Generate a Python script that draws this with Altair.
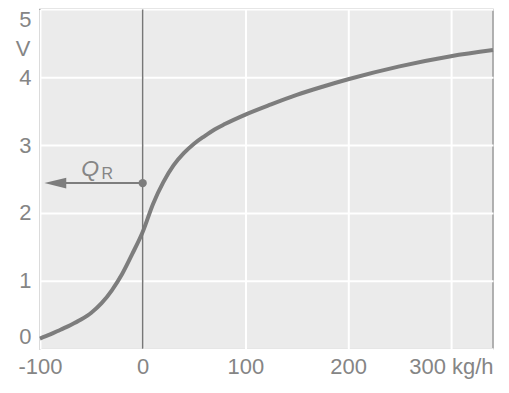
import altair as alt
import pandas as pd

# curve: sensor voltage vs. air mass flow
flow = [-100, -90, -80, -70, -60, -50, -40, -30, -20, -10, 0, 10, 20, 30, 40, 50, 60, 70, 80,
        100, 125, 150, 175, 200, 250, 300, 341]
volt = [0.15, 0.21, 0.28, 0.35, 0.43, 0.53, 0.67, 0.86, 1.10, 1.40, 1.72, 2.13, 2.45, 2.70, 2.88,
        3.02, 3.13, 3.23, 3.31, 3.45, 3.60, 3.74, 3.86, 3.97, 4.16, 4.31, 4.40]

x_ticks = [-100, 0, 100, 200, 300]
y_ticks = [0, 1, 2, 3, 4, 5]

qr_flow = 0
qr_volt = 2.44
arrow_end = -80
arrow_tip = -85

GREY = "#858585"
LINE = "#7d7d7d"
FONT = "Liberation Sans"

XDOM = [-100, 341]
YDOM = [0, 5]

curve_df = pd.DataFrame({"flow": flow, "volt": volt})

xs = alt.Scale(domain=XDOM, nice=False, zero=False)
ys = alt.Scale(domain=YDOM, nice=False)

xaxis = alt.Axis(values=x_ticks, title=None, grid=True, gridColor="white", gridWidth=2,
                 ticks=False, domain=False, labelFlush=False, labelPadding=8,
                 labelFont=FONT, labelFontSize=22, labelColor=GREY,
                 labelExpr="datum.value == 300 ? '300 kg/h' : datum.value < 0 ? '-100' : datum.label")
yaxis = alt.Axis(values=y_ticks, title=None, grid=True, gridColor="white", gridWidth=2,
                 ticks=False, domain=False, labelFlush=True, labelPadding=9, format="d",
                 labelFont=FONT, labelFontSize=22, labelColor=GREY,
                 minExtent=27, maxExtent=27)

base = alt.Chart(curve_df)

curve = base.mark_line(color=LINE, strokeWidth=4, interpolate="monotone").encode(
    x=alt.X("flow:Q", scale=xs, axis=xaxis),
    y=alt.Y("volt:Q", scale=ys, axis=yaxis),
)

vline = alt.Chart(pd.DataFrame({"x": [qr_flow], "y": [YDOM[0]], "y2": [YDOM[1]]})).mark_rule(
    color="#777777", strokeWidth=1.5).encode(x="x:Q", y="y:Q", y2="y2:Q")

arrow_df = pd.DataFrame({"x": [qr_flow], "x2": [arrow_end], "y": [qr_volt]})
arrow_line = alt.Chart(arrow_df).mark_rule(color=LINE, strokeWidth=2).encode(
    x="x:Q", x2="x2:Q", y="y:Q")

tip_df = pd.DataFrame({"x": [arrow_tip], "y": [qr_volt]})
arrow_head = alt.Chart(tip_df).mark_point(
    shape="M -1 0 L 1 -0.5 L 1 0.5 Z", filled=True, color=LINE, opacity=1, size=480
).encode(x="x:Q", y="y:Q")

dot = alt.Chart(pd.DataFrame({"x": [qr_flow], "y": [qr_volt]})).mark_point(
    filled=True, color=LINE, opacity=1, size=70).encode(x="x:Q", y="y:Q")

q_lbl = alt.Chart(pd.DataFrame({"x": [-51], "y": [2.54], "t": ["Q"]})).mark_text(
    font=FONT, fontSize=23, fontStyle="italic", color=GREY, align="center", baseline="alphabetic"
).encode(x="x:Q", y="y:Q", text="t:N")
r_lbl = alt.Chart(pd.DataFrame({"x": [-40], "y": [2.50], "t": ["R"]})).mark_text(
    font=FONT, fontSize=16, color=GREY, align="left", baseline="alphabetic"
).encode(x="x:Q", y="y:Q", text="t:N")

v_lbl = alt.Chart(pd.DataFrame({"x": [-100], "y": [4.42], "t": ["V"]})).mark_text(
    font=FONT, fontSize=22, color=GREY, align="center", baseline="middle", dx=-17
).encode(x="x:Q", y="y:Q", text="t:N")

chart = alt.layer(curve, vline, arrow_line, arrow_head, dot, q_lbl, r_lbl, v_lbl).properties(
    width=454, height=340, padding={"left": 5, "top": 0, "right": 0, "bottom": 5},
    background="white",
).configure_view(fill="#ebebeb", stroke="#9a9a9a", strokeWidth=1.5)

chart.save("out.html", embed_options={"renderer": "svg", "actions": False})
